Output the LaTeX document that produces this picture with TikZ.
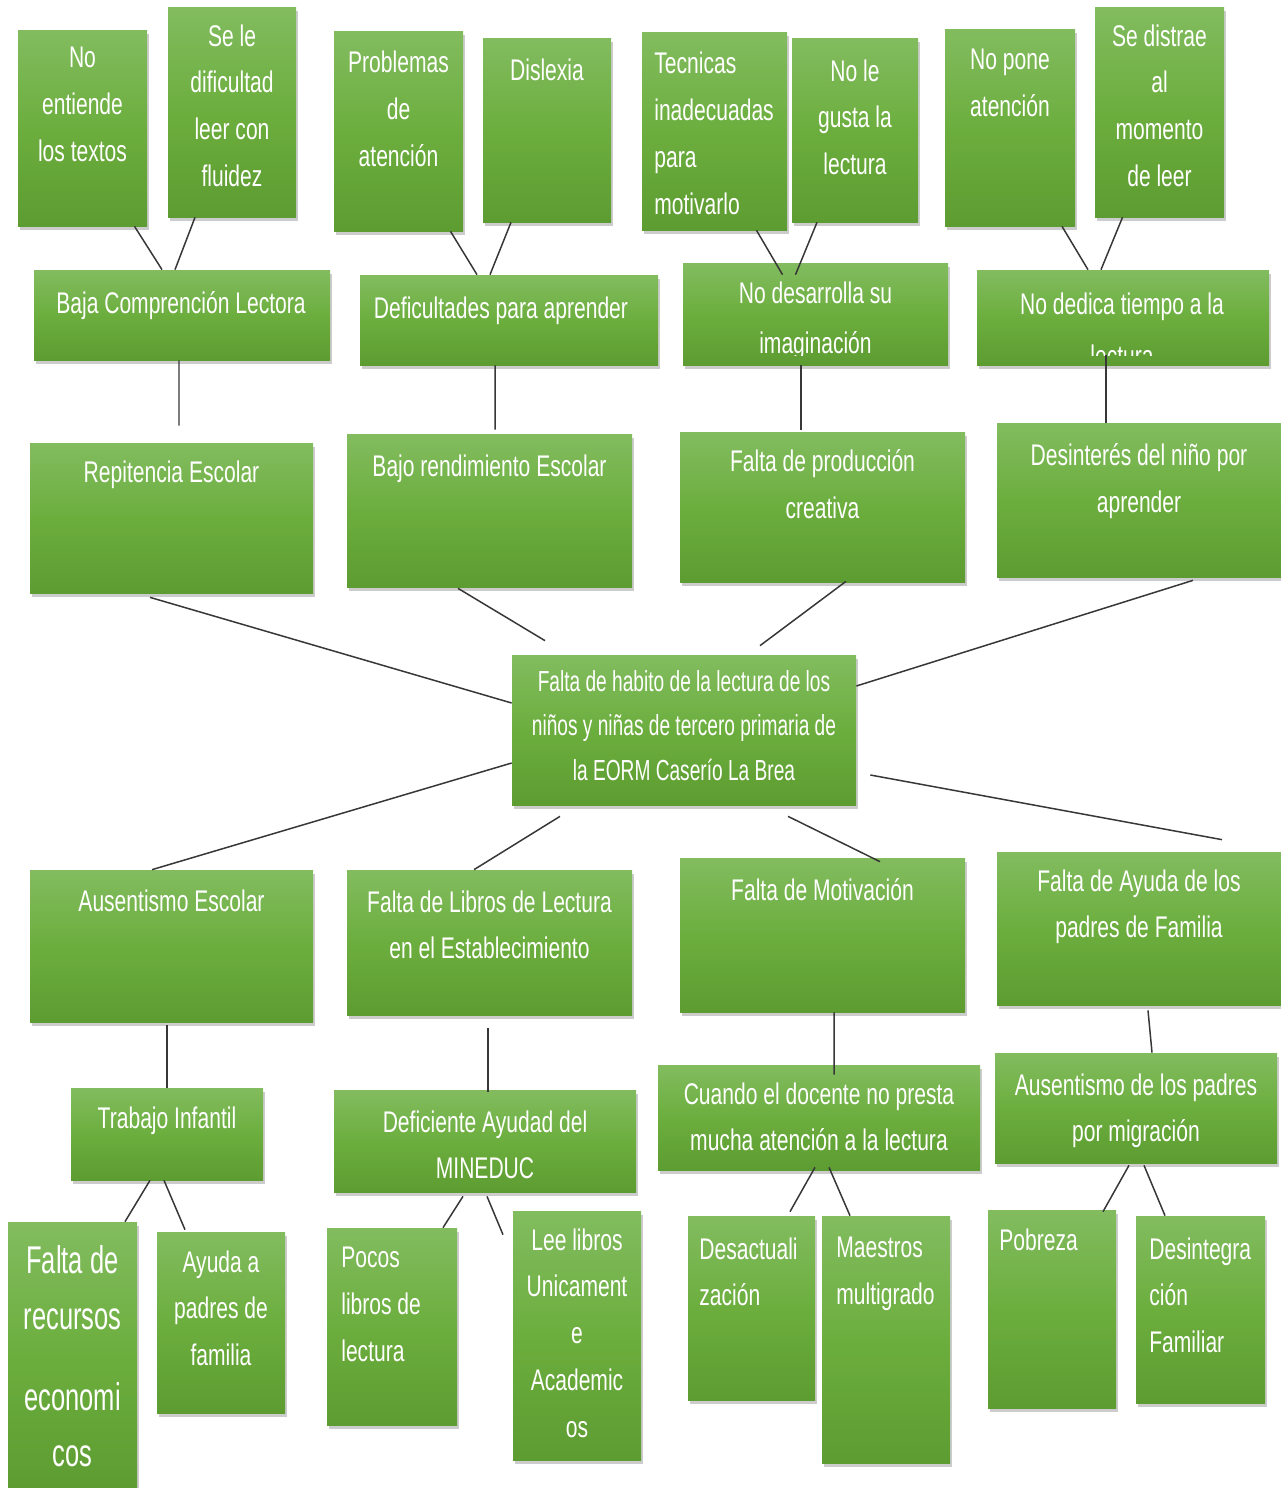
\documentclass[tikz,border=0pt]{standalone}
\usepackage{fontspec}
\setmainfont{Liberation Sans}[FakeStretch=0.705]
\newfontfamily\estrecha{Liberation Sans}[FakeStretch=0.66]
\usetikzlibrary{fit,calc,shadows}
\definecolor{verdeclaro}{RGB}{130,188,95}
\definecolor{verdemedio}{RGB}{108,174,62}
\definecolor{verdeoscuro}{RGB}{93,156,49}
\definecolor{gris}{RGB}{55,55,55}
\begin{document}
\begin{tikzpicture}[x=0.02cm, y=-0.02cm,
    caja/.style={inner sep=0pt, top color=verdeclaro, bottom color=verdeoscuro, middle color=verdemedio,
        drop shadow={shadow xshift=1pt, shadow yshift=-2.5pt, opacity=0.4}},
    txt/.style={text=white, align=center, anchor=north, inner sep=0pt,
        font=\fontsize{17}{26.7}\selectfont, execute at begin node=\strut},
    txtl/.style={txt, align=left, anchor=north west},
    linea/.style={draw=gris, line width=0.85pt}]
    \useasboundingbox (0,0) rectangle (1281,1488);
    % top causes
    \node[caja, fit={(18,30) (147,226)}] (nent) {};
    \node[caja, fit={(168,7) (296,217)}] (sele) {};
    \node[caja, fit={(334,31) (463,231)}] (prob) {};
    \node[caja, fit={(483,38) (611,222)}] (disl) {};
    \node[caja, fit={(642,32) (787,230)}] (tecn) {};
    \node[caja, fit={(792,38) (918,222)}] (nogus) {};
    \node[caja, fit={(945,29) (1075,226)}] (nopon) {};
    \node[caja, fit={(1095,7) (1224,217)}] (sedis) {};
    \node[txt] (t-nent) at (82.5,47) {No\\entiende\\los textos};
    \node[txt] (t-sele) at (232,24) {Se le\\dificultad\\leer con\\fluidez};
    \node[txt] (t-prob) at (398.5,51) {Problemas\\de\\atención};
    \node[txt] (t-disl) at (547,47) {Dislexia};
    \node[txtl] (t-tecn) at (654,52) {Tecnicas\\inadecuadas\\para\\motivarlo};
    \node[txt] (t-nogus) at (855,59) {No le\\gusta la\\lectura};
    \node[txt] (t-nopon) at (1010,49) {No pone\\atención};
    \node[txt] (t-sedis) at (1159.5,24) {Se distrae\\al\\momento\\de leer};
    % second row
    \node[caja, fit={(34,270) (330,360)}] (baja) {};
    \node[caja, fit={(360,275) (658,365)}] (defic) {};
    \node[caja, fit={(683,263) (948,365)}] (nodes) {};
    \node[caja, fit={(977,270) (1269,365)}] (noded) {};
    \node[txt] (t-baja) at (181,280) {Baja Comprención Lectora};
    \node[txt] (t-defic) at (501,285) {Deficultades para aprender};
    \begin{scope}
        \clip (nodes.north west) rectangle ($(nodes.south east)+(0,-10)$);
        \node[txt] (t-nodes) at (815.5,281) {No desarrolla su\\[2pt]imaginación};
    \end{scope}
    \begin{scope}
        \clip (noded.north west) rectangle ($(noded.south east)+(0,-10)$);
        \node[txt] (t-noded) at (1122,292) {No dedica tiempo a la\\[3pt]lectura};
    \end{scope}
    % effects above the problem
    \node[caja, fit={(30,443) (313,593)}] (repit) {};
    \node[caja, fit={(347,434) (632,587)}] (bajor) {};
    \node[caja, fit={(680,432) (965,582)}] (fprod) {};
    \node[caja, fit={(997,423) (1281,577)}] (desin) {};
    \node[txt] (t-repit) at (171.5,449) {Repitencia Escolar};
    \node[txt] (t-bajor) at (489.5,443) {Bajo rendimiento Escolar};
    \node[txt] (t-fprod) at (822.5,449) {Falta de producción\\creativa};
    \node[txt] (t-desin) at (1139,443) {Desinterés del niño por\\aprender};
    % central problem
    \node[caja, fit={(512,655) (856,805)}] (centro) {};
    \node[txt, font=\estrecha\fontsize{16.5}{25.3}\selectfont] (t-centro) at (684,670)
        {Falta de habito de la lectura de los\\niños y niñas de tercero primaria de\\la EORM Caserío La Brea};
    % causes below the problem
    \node[caja, fit={(30,870) (313,1022)}] (ausen) {};
    \node[caja, fit={(347,870) (632,1015)}] (flib) {};
    \node[caja, fit={(680,858) (965,1012)}] (fmot) {};
    \node[caja, fit={(997,852) (1281,1005)}] (fayu) {};
    \node[txt] (t-ausen) at (171.5,878) {Ausentismo Escolar};
    \node[txt] (t-flib) at (489.5,890) {Falta de Libros de Lectura\\en el Establecimiento};
    \node[txt] (t-fmot) at (822.5,867) {Falta de Motivación};
    \node[txt] (t-fayu) at (1139,869) {Falta de Ayuda de los\\padres de Familia};
    % third row below
    \node[caja, fit={(71,1088) (263,1180)}] (trab) {};
    \node[caja, fit={(334,1090) (636,1192)}] (defmin) {};
    \node[caja, fit={(658,1065) (980,1170)}] (cuando) {};
    \node[caja, fit={(995,1053) (1277,1163)}] (auspad) {};
    \node[txt] (t-trab) at (167,1095) {Trabajo Infantil};
    \begin{scope}
        \clip (defmin.north west) rectangle ($(defmin.south east)+(0,-13)$);
        \node[txt] (t-defmin) at (485,1110) {Deficiente Ayudad del\\MINEDUC};
    \end{scope}
    \node[txt] (t-cuando) at (819,1082) {Cuando el docente no presta\\mucha atención a la lectura};
    \node[txt] (t-auspad) at (1136,1073) {Ausentismo de los padres\\por migración};
    % bottom row
    \node[caja, fit={(8,1222) (137,1488)}] (frec) {};
    \node[caja, fit={(157,1232) (285,1413)}] (ayu) {};
    \node[caja, fit={(327,1228) (457,1425)}] (pocos) {};
    \node[caja, fit={(513,1211) (641,1460)}] (lee) {};
    \node[caja, fit={(688,1216) (815,1400)}] (desac) {};
    \node[caja, fit={(822,1216) (950,1463)}] (maest) {};
    \node[caja, fit={(988,1210) (1116,1408)}] (pobr) {};
    \node[caja, fit={(1136,1216) (1265,1403)}] (desint) {};
    \node[txt, font=\estrecha\fontsize{22}{32}\selectfont] (t-frec) at (72.5,1245) {Falta de\\recursos\\[14pt]economi\\cos};
    \node[txt] (t-ayu) at (221,1250) {Ayuda a\\padres de\\familia};
    \node[txtl] (t-pocos) at (341,1247) {Pocos\\libros de\\lectura};
    \node[txt] (t-lee) at (577,1228) {Lee libros\\Unicament\\e\\Academic\\os};
    \node[txtl] (t-desac) at (699,1237) {Desactuali\\zación};
    \node[txtl] (t-maest) at (836,1237) {Maestros\\multigrado};
    \node[txtl] (t-pobr) at (999,1217) {Pobreza};
    \node[txtl] (t-desint) at (1149,1237) {Desintegra\\ción\\Familiar};
    % connectors top
    \draw[linea] ($(nent.south)+(52,0)$) -- ($(baja.north)+(-20,0)$);
    \draw[linea] ($(sele.south)+(-37,0)$) -- ($(baja.north)+(-7,0)$);
    \draw[linea] ($(prob.south)+(52,0)$) -- ($(defic.north)+(-32,0)$);
    \draw[linea] ($(disl.south)+(-36,0)$) -- ($(defic.north)+(-19,0)$);
    \draw[linea] ($(tecn.south)+(42,0)$) -- ($(nodes.north)+(-33,12)$);
    \draw[linea] ($(nogus.south)+(-38,0)$) -- ($(nodes.north)+(-20,12)$);
    \draw[linea] ($(nopon.south)+(52,0)$) -- ($(noded.north)+(-35,0)$);
    \draw[linea] ($(sedis.south)+(-37,0)$) -- ($(noded.north)+(-22,0)$);
    \draw[linea] ($(baja.south)+(-3,0)$) -- ($(repit.north)+(7.5,-17)$);
    \draw[linea] ($(defic.south)+(-14,0)$) -- ($(bajor.north)+(5.5,-4)$);
    \draw[linea] ($(nodes.south)+(-14.5,0)$) -- ($(fprod.north)+(-21.5,-2)$);
    \draw[linea] ($(noded.south)+(-17,-10)$) -- ($(desin.north)+(-33,0)$);
    % connectors to the central problem
    \draw[linea] ($(repit.south)+(-21.5,4)$) -- ($(centro.west)+(0,-27)$);
    \draw[linea] ($(bajor.south)+(-31.5,1)$) -- ($(centro.north)+(-139,-14)$);
    \draw[linea] ($(fprod.south)+(23.5,-1)$) -- ($(centro.north)+(76,-9)$);
    \draw[linea] ($(desin.south)+(54,3)$) -- ($(centro.east)+(0,-44)$);
    \draw[linea] ($(centro.west)+(0,33)$) -- ($(ausen.north)+(-19.5,0)$);
    \draw[linea] ($(centro.south)+(-124,11)$) -- ($(flib.north)+(-15.5,0)$);
    \draw[linea] ($(centro.south)+(104,11)$) -- ($(fmot.north)+(57.5,4)$);
    \draw[linea] ($(centro.east)+(14,45)$) -- ($(fayu.north)+(83,-12)$);
    % connectors below
    \draw[linea] ($(ausen.south)+(-4.5,3)$) -- (trab.north);
    \draw[linea] ($(flib.south)+(-1.5,13)$) -- ($(defmin.north)+(3,2)$);
    \draw[linea] ($(fmot.south)+(11.5,0)$) -- ($(cuando.north)+(15,10)$);
    \draw[linea] ($(fayu.south)+(9,5)$) -- ($(auspad.north)+(16,0)$);
    \draw[linea] ($(trab.south)+(-17,0)$) -- ($(frec.north)+(52.5,0)$);
    \draw[linea] ($(trab.south)+(-3,0)$) -- ($(ayu.north)+(-36,-2)$);
    \draw[linea] ($(defmin.south)+(-22,4)$) -- ($(pocos.north)+(51,0)$);
    \draw[linea] ($(defmin.south)+(2,4)$) -- ($(lee.north)+(-74,24)$);
    \draw[linea] ($(cuando.south)+(-4,-3)$) -- ($(desac.north)+(38.5,-4)$);
    \draw[linea] ($(cuando.south)+(10,-3)$) -- ($(maest.north)+(-36,0)$);
    \draw[linea] ($(auspad.south)+(-7,2)$) -- ($(pobr.north)+(51,2)$);
    \draw[linea] ($(auspad.south)+(8,2)$) -- ($(desint.north)+(-35.5,0)$);
\end{tikzpicture}
\end{document}
